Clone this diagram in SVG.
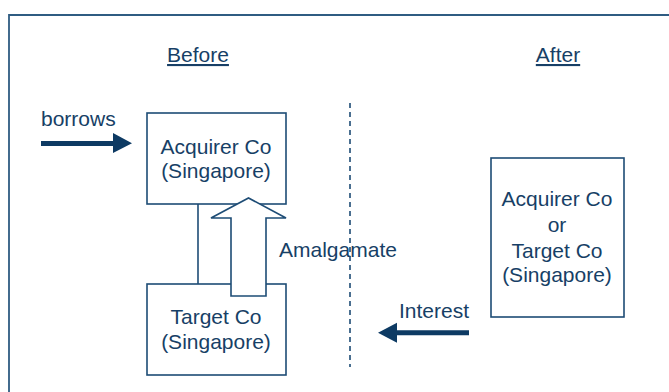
<svg xmlns="http://www.w3.org/2000/svg" width="669" height="392" viewBox="0 0 669 392">
<defs>
<style>
text{font-family:"Liberation Sans",Arial,sans-serif;font-size:21px;fill:#173f66}
.c{text-anchor:middle}
.box{fill:#fff;stroke:#1d4c75;stroke-width:1.6}
.ln{stroke:#1d4c75;stroke-width:1.6;fill:none}
.arr{fill:#0d3a63}
</style>
</defs>
<rect width="669" height="392" fill="#fff"/>
<g id="frame">
<path d="M9 392V15H669" fill="none" stroke="#2f5c82" stroke-width="1.8"/>
</g>
<g id="headings">
<text class="c" x="198" y="62" text-decoration="underline">Before</text>
<text class="c" x="558" y="62" text-decoration="underline">After</text>
</g>
<g id="divider">
<line x1="350" y1="103" x2="350" y2="367" stroke="#1d4c75" stroke-width="1.6" stroke-dasharray="5 4"/>
</g>
<g id="acquirer">
<rect class="box" x="147" y="113" width="139" height="91"/>
<text class="c" x="216" y="154">Acquirer Co</text>
<text class="c" x="216" y="178">(Singapore)</text>
</g>
<g id="target">
<rect class="box" x="147" y="284" width="139" height="91"/>
<text class="c" x="216" y="324">Target Co</text>
<text class="c" x="216" y="349">(Singapore)</text>
</g>
<g id="after">
<rect class="box" x="491" y="158" width="133" height="159"/>
<text class="c" x="557" y="206">Acquirer Co</text>
<text class="c" x="557" y="232">or</text>
<text class="c" x="557" y="258">Target Co</text>
<text class="c" x="557" y="282">(Singapore)</text>
</g>
<g id="connectors">
<line class="ln" x1="198" y1="204" x2="198" y2="284"/>
<polygon points="231,296 231,218 211,218 248.5,198 286,218 266,218 266,296" fill="#fff" stroke="#1d4c75" stroke-width="1.6"/>
<text x="279" y="257">Amalgamate</text>
<polygon class="arr" points="41,141 113,141 113,133 132,143.3 113,153 113,146 41,146"/>
<text x="41" y="126">borrows</text>
<polygon class="arr" points="469,330.3 397,330.3 397,322.7 378,332.7 397,342.7 397,335.3 469,335.3"/>
<text x="399" y="318">Interest</text>
</g>
</svg>
